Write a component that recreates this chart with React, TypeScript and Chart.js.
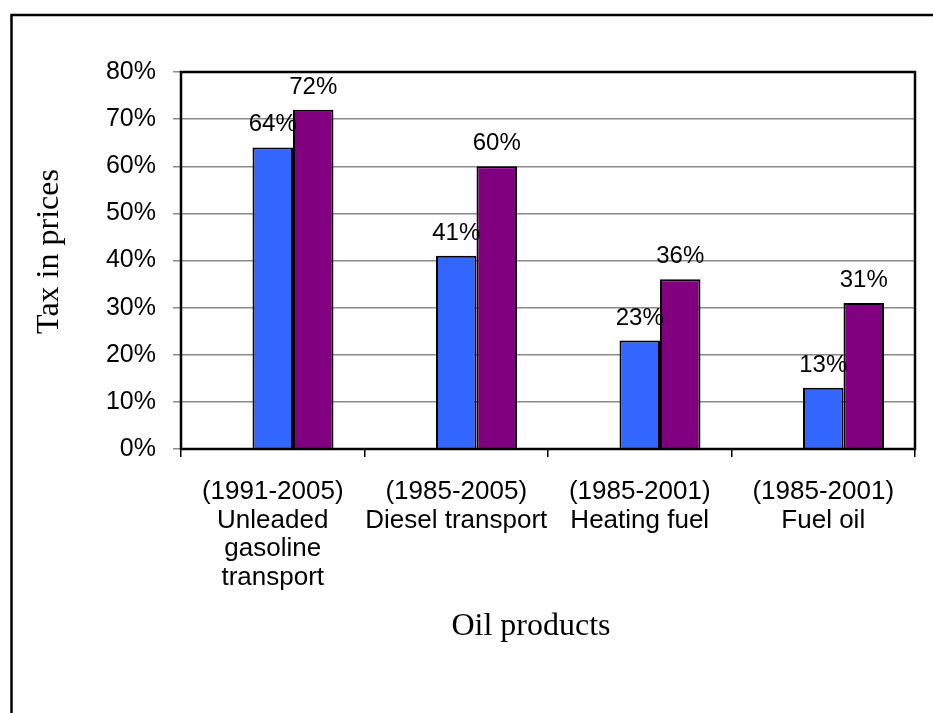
import React, { useEffect, useRef } from "react";
import { Chart, registerables } from "chart.js";

Chart.register(...registerables);

// ---- data ----
const categories: string[][] = [
  ["(1991-2005)", "Unleaded", "gasoline", "transport"],
  ["(1985-2005)", "Diesel transport"],
  ["(1985-2001)", "Heating fuel"],
  ["(1985-2001)", "Fuel oil"],
];
// an empty first series (present in the source chart, shifts the bars right)
const emptySeries: (number | null)[] = [null, null, null, null];
const startYearValues: number[] = [64, 41, 23, 13];
const endYearValues: number[] = [72, 60, 36, 31];
const yMin = 0;
const yMax = 80;
const yStep = 10;
const yAxisTitle = "Tax in prices";
const xAxisTitle = "Oil products";

const SANS = '"Liberation Sans", Arial, Helvetica, sans-serif';
const SERIF = '"Liberation Serif", "Times New Roman", serif';

const decorPlugin = {
  id: "decor",
  beforeDraw(chart: any) {
    const { ctx, width, height } = chart;
    ctx.save();
    ctx.fillStyle = "#ffffff";
    ctx.fillRect(0, 0, width, height);
    ctx.strokeStyle = "#000";
    ctx.lineWidth = 2.5;
    ctx.beginPath();
    ctx.moveTo(11.5, height + 10);
    ctx.lineTo(11.5, 15);
    ctx.lineTo(width + 10, 15);
    ctx.stroke();
    ctx.restore();
  },
  afterDatasetsDraw(chart: any) {
    const { ctx, chartArea: a } = chart;
    ctx.save();
    ctx.strokeStyle = "#000";
    ctx.lineWidth = 2.5;
    ctx.strokeRect(a.left, a.top, a.right - a.left, a.bottom - a.top);

    ctx.font = `24px ${SANS}`;
    ctx.fillStyle = "#000";
    ctx.textAlign = "center";
    ctx.textBaseline = "alphabetic";
    [1, 2].forEach((di) => {
      const meta = chart.getDatasetMeta(di);
      meta.data.forEach((el: any, i: number) => {
        const v = chart.data.datasets[di].data[i];
        if (v == null) return;
        ctx.fillText(`${v}%`, el.x, el.y - 16);
      });
    });

    ctx.font = `32px ${SERIF}`;
    ctx.textAlign = "center";
    ctx.textBaseline = "alphabetic";
    ctx.fillText(xAxisTitle, (a.left + a.right) / 2 - 17, a.bottom + 186);

    ctx.translate(58, (a.top + a.bottom) / 2 - 9);
    ctx.rotate(-Math.PI / 2);
    ctx.fillText(yAxisTitle, 0, 0);
    ctx.restore();
  },
};

export default function App() {
  const ref = useRef<HTMLCanvasElement | null>(null);
  useEffect(() => {
    if (!ref.current) return;
    const chart = new Chart(ref.current, {
      type: "bar",
      data: {
        labels: categories,
        datasets: [
          {
            label: "empty",
            data: emptySeries,
            backgroundColor: "#ffffff",
            borderColor: "#000",
            borderWidth: 2,
          },
          {
            label: "start",
            data: startYearValues,
            backgroundColor: "#3366FF",
            borderColor: "#000",
            borderWidth: 2,
          },
          {
            label: "end",
            data: endYearValues,
            backgroundColor: "#800080",
            borderColor: "#000",
            borderWidth: 2,
          },
        ],
      },
      options: {
        animation: false,
        responsive: false,
        devicePixelRatio: 1,
        layout: { padding: { left: 0, right: 18, top: 72, bottom: 0 } },
        datasets: {
          bar: { categoryPercentage: 0.662, barPercentage: 1 },
        },
        plugins: {
          legend: { display: false },
          tooltip: { enabled: false },
          title: { display: false },
        },
        scales: {
          x: {
            border: { display: false },
            grid: {
              display: true,
              drawOnChartArea: false,
              drawTicks: true,
              tickLength: 8,
              color: "#000",
              lineWidth: 1.5,
            },
            ticks: {
              color: "#000",
              font: { family: SANS, size: 26, lineHeight: 1.096 },
              padding: 21,
              maxRotation: 0,
              autoSkip: false,
            },
            afterFit: (scale: any) => {
              scale.height = 264;
            },
          },
          y: {
            min: yMin,
            max: yMax,
            border: { display: false },
            grid: {
              color: "#8a8a8a",
              lineWidth: 1.5,
              drawTicks: true,
              tickLength: 8,
            },
            ticks: {
              stepSize: yStep,
              color: "#000",
              font: { family: SANS, size: 25 },
              padding: 17,
              callback: (v: any) => `${v}%`,
            },
            afterFit: (scale: any) => {
              scale.width = 181;
            },
          },
        },
      },
      plugins: [decorPlugin],
    });
    return () => chart.destroy();
  }, []);
  return (
    <div style={{ position: "absolute", left: 0, top: 0, width: 933, height: 713, background: "#fff" }}>
      <canvas ref={ref} width={933} height={713} style={{ display: "block" }} />
    </div>
  );
}
